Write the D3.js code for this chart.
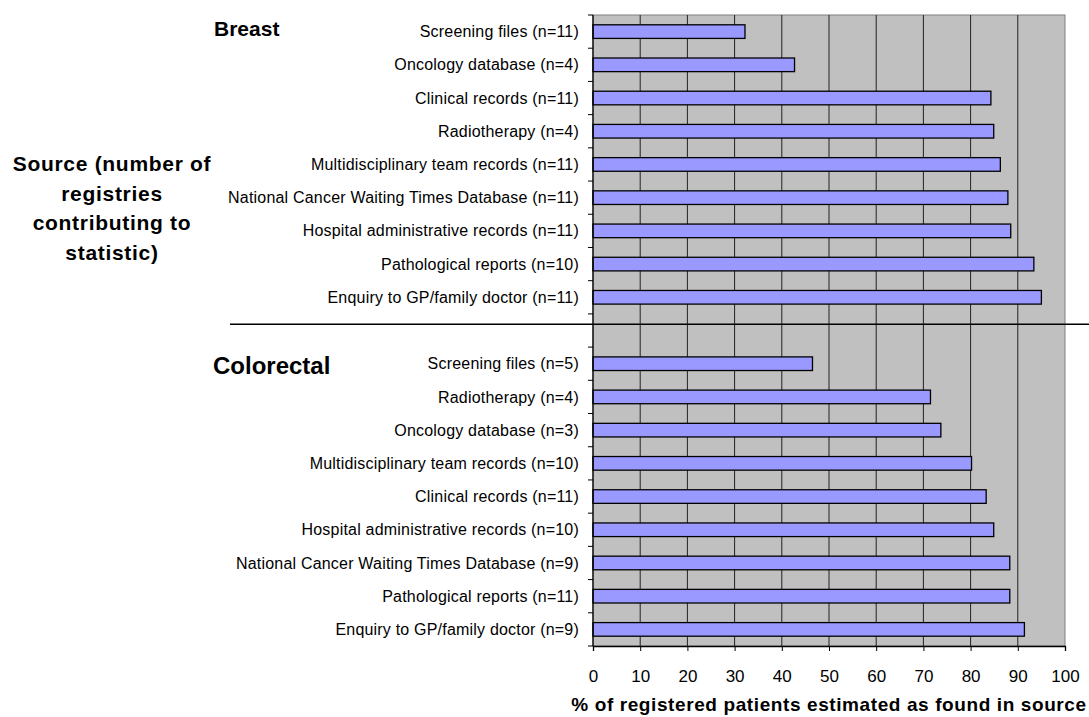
<!DOCTYPE html>
<html>
<head>
<meta charset="utf-8">
<script src="https://cdn.jsdelivr.net/npm/d3@7"></script>
<style>
  body { margin: 0; background: #fff; }
  text { font-family: "Liberation Sans", Arial, sans-serif; }
</style>
</head>
<body>
<div id="chart"></div>
<script>
// breast sources, top to bottom
var breastLabels = [
  "Screening files (n=11)",
  "Oncology database (n=4)",
  "Clinical records (n=11)",
  "Radiotherapy (n=4)",
  "Multidisciplinary team records (n=11)",
  "National Cancer Waiting Times Database (n=11)",
  "Hospital administrative records (n=11)",
  "Pathological reports (n=10)",
  "Enquiry to GP/family doctor (n=11)"
];
var breastValues = [32.2, 42.7, 84.3, 84.9, 86.3, 87.9, 88.5, 93.4, 95.0];

// colorectal sources, top to bottom
var colorectalLabels = [
  "Screening files (n=5)",
  "Radiotherapy (n=4)",
  "Oncology database (n=3)",
  "Multidisciplinary team records (n=10)",
  "Clinical records (n=11)",
  "Hospital administrative records (n=10)",
  "National Cancer Waiting Times Database (n=9)",
  "Pathological reports (n=11)",
  "Enquiry to GP/family doctor (n=9)"
];
var colorectalValues = [46.5, 71.5, 73.7, 80.2, 83.3, 84.9, 88.3, 88.3, 91.4];

var xTicks = [0, 10, 20, 30, 40, 50, 60, 70, 80, 90, 100];

var width = 1089, height = 717;
var margin = {top: 15, right: 24, bottom: 71, left: 593};

var svg = d3.select("#chart").append("svg")
  .attr("width", width)
  .attr("height", height);

// build rows, with an empty slot between the two groups
var rows = [];
breastLabels.forEach(function(d, i) {
  rows.push({id: "b" + i, label: d, value: breastValues[i]});
});
rows.push({id: "gap", label: "", value: null});
colorectalLabels.forEach(function(d, i) {
  rows.push({id: "c" + i, label: d, value: colorectalValues[i]});
});

var x = d3.scaleLinear()
  .domain([0, 100])
  .range([margin.left, width - margin.right]);

var y = d3.scaleBand()
  .domain(rows.map(function(d) { return d.id; }))
  .range([margin.top, height - margin.bottom])
  .paddingInner(0.59)
  .paddingOuter(0.295);

var step = y.step();
var y0 = margin.top, y1 = height - margin.bottom;

// plot background
svg.append("rect")
  .attr("x", x(0))
  .attr("y", y0)
  .attr("width", x(100) - x(0))
  .attr("height", y1 - y0)
  .attr("fill", "#c0c0c0")
  .attr("stroke", "#808080")
  .attr("stroke-width", 1);

// vertical gridlines
svg.append("g")
  .selectAll("line")
  .data(xTicks.slice(1, -1))
  .enter().append("line")
  .attr("x1", function(d) { return x(d); })
  .attr("x2", function(d) { return x(d); })
  .attr("y1", y0)
  .attr("y2", y1)
  .attr("stroke", "#222")
  .attr("stroke-width", 1);

// bars
svg.append("g")
  .selectAll("rect")
  .data(rows.filter(function(d) { return d.value !== null; }))
  .enter().append("rect")
  .attr("x", x(0))
  .attr("y", function(d) { return y(d.id); })
  .attr("width", function(d) { return x(d.value) - x(0); })
  .attr("height", y.bandwidth())
  .attr("fill", "#9999ff")
  .attr("stroke", "#000")
  .attr("stroke-width", 1.3);

// y axis line + ticks at slot boundaries
svg.append("line")
  .attr("x1", x(0)).attr("x2", x(0))
  .attr("y1", y0).attr("y2", y1)
  .attr("stroke", "#000").attr("stroke-width", 1.3);

svg.append("g")
  .selectAll("line")
  .data(d3.range(rows.length + 1))
  .enter().append("line")
  .attr("x1", x(0) - 5)
  .attr("x2", x(0))
  .attr("y1", function(i) { return y0 + i * step; })
  .attr("y2", function(i) { return y0 + i * step; })
  .attr("stroke", "#000");

// category labels
svg.append("g")
  .selectAll("text")
  .data(rows)
  .enter().append("text")
  .attr("x", x(0) - 14)
  .attr("y", function(d) { return y(d.id) + y.bandwidth() / 2; })
  .attr("dy", "0.35em")
  .attr("text-anchor", "end")
  .attr("font-size", "16px")
  .attr("letter-spacing", "0.2px")
  .attr("fill", "#000")
  .text(function(d) { return d.label; });

// x axis
var xAxis = svg.append("g")
  .attr("transform", "translate(0," + y1 + ")")
  .call(d3.axisBottom(x).tickValues(xTicks).tickSize(5).tickPadding(19));
xAxis.select(".domain").attr("stroke", "#000").attr("stroke-width", 1.3);
xAxis.selectAll("text")
  .attr("font-size", "17px")
  .attr("font-family", "Liberation Sans, Arial, sans-serif")
  .attr("fill", "#000");

// x axis title
svg.append("text")
  .attr("x", 829)
  .attr("y", 711)
  .attr("text-anchor", "middle")
  .attr("font-size", "19px")
  .attr("letter-spacing", "0.6px")
  .attr("font-weight", "bold")
  .text("% of registered patients estimated as found in source");

// y axis title
var yTitle = ["Source (number of", "registries", "contributing to", "statistic)"];
svg.append("g")
  .selectAll("text")
  .data(yTitle)
  .enter().append("text")
  .attr("x", 112)
  .attr("y", function(d, i) { return 171 + i * 29.5; })
  .attr("text-anchor", "middle")
  .attr("font-size", "21px")
  .attr("letter-spacing", "0.7px")
  .attr("font-weight", "bold")
  .text(function(d) { return d; });

// group titles
svg.append("text")
  .attr("x", 214)
  .attr("y", 36)
  .attr("font-size", "21px")
  .attr("font-weight", "bold")
  .text("Breast");

svg.append("text")
  .attr("x", 213)
  .attr("y", 374)
  .attr("font-size", "24px")
  .attr("font-weight", "bold")
  .text("Colorectal");

// divider between the groups
svg.append("line")
  .attr("x1", 230)
  .attr("x2", width)
  .attr("y1", y("gap") - step * 0.295 + step * 0.31)
  .attr("y2", y("gap") - step * 0.295 + step * 0.31)
  .attr("stroke", "#000")
  .attr("stroke-width", 1.5);
</script>
</body>
</html>
